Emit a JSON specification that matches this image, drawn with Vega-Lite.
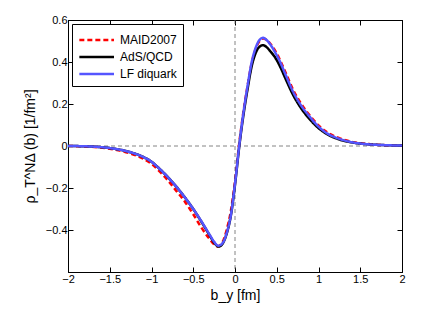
{
  "$schema": "https://vega.github.io/schema/vega-lite/v6.json",
  "width": 334,
  "height": 252,
  "autosize": {"type": "none"},
  "padding": {"left": 68, "top": 20, "right": 29, "bottom": 38},
  "background": "white",
  "config": {
    "font": "Liberation Sans",
    "view": {"stroke": "black", "strokeWidth": 1},
    "axis": {"grid": false, "domainColor": "black", "tickColor": "black", "labelColor": "black", "titleColor": "black", "labelFontSize": 11, "titleFontSize": 14, "titleFontWeight": "normal", "tickSize": -5, "labelPadding": 6, "labelFlush": false},
    "legend": {"labelFontSize": 12, "labelColor": "black"}
  },
  "datasets": {
    "curves": [
      {"x": -2, "y": 0, "s": "MAID2007"},
      {"x": -1.75, "y": -0.003, "s": "MAID2007"},
      {"x": -1.5, "y": -0.013, "s": "MAID2007"},
      {"x": -1.25, "y": -0.036, "s": "MAID2007"},
      {"x": -1.1, "y": -0.06, "s": "MAID2007"},
      {"x": -1.0, "y": -0.085, "s": "MAID2007"},
      {"x": -0.9, "y": -0.122, "s": "MAID2007"},
      {"x": -0.8, "y": -0.165, "s": "MAID2007"},
      {"x": -0.7, "y": -0.215, "s": "MAID2007"},
      {"x": -0.6, "y": -0.265, "s": "MAID2007"},
      {"x": -0.5, "y": -0.325, "s": "MAID2007"},
      {"x": -0.4, "y": -0.39, "s": "MAID2007"},
      {"x": -0.3, "y": -0.445, "s": "MAID2007"},
      {"x": -0.25, "y": -0.468, "s": "MAID2007"},
      {"x": -0.21, "y": -0.478, "s": "MAID2007"},
      {"x": -0.15, "y": -0.458, "s": "MAID2007"},
      {"x": -0.1, "y": -0.40, "s": "MAID2007"},
      {"x": -0.05, "y": -0.31, "s": "MAID2007"},
      {"x": 0, "y": -0.17, "s": "MAID2007"},
      {"x": 0.05, "y": 0.01, "s": "MAID2007"},
      {"x": 0.1, "y": 0.16, "s": "MAID2007"},
      {"x": 0.15, "y": 0.285, "s": "MAID2007"},
      {"x": 0.2, "y": 0.395, "s": "MAID2007"},
      {"x": 0.25, "y": 0.465, "s": "MAID2007"},
      {"x": 0.3, "y": 0.503, "s": "MAID2007"},
      {"x": 0.34, "y": 0.512, "s": "MAID2007"},
      {"x": 0.375, "y": 0.506, "s": "MAID2007"},
      {"x": 0.425, "y": 0.486, "s": "MAID2007"},
      {"x": 0.475, "y": 0.458, "s": "MAID2007"},
      {"x": 0.55, "y": 0.40, "s": "MAID2007"},
      {"x": 0.6, "y": 0.355, "s": "MAID2007"},
      {"x": 0.7, "y": 0.264, "s": "MAID2007"},
      {"x": 0.8, "y": 0.196, "s": "MAID2007"},
      {"x": 0.9, "y": 0.143, "s": "MAID2007"},
      {"x": 1.0, "y": 0.098, "s": "MAID2007"},
      {"x": 1.1, "y": 0.066, "s": "MAID2007"},
      {"x": 1.25, "y": 0.037, "s": "MAID2007"},
      {"x": 1.4, "y": 0.02, "s": "MAID2007"},
      {"x": 1.6, "y": 0.009, "s": "MAID2007"},
      {"x": 1.8, "y": 0.004, "s": "MAID2007"},
      {"x": 2, "y": 0.002, "s": "MAID2007"},

      {"x": -2, "y": 0, "s": "AdS/QCD"},
      {"x": -1.75, "y": -0.002, "s": "AdS/QCD"},
      {"x": -1.5, "y": -0.010, "s": "AdS/QCD"},
      {"x": -1.25, "y": -0.030, "s": "AdS/QCD"},
      {"x": -1.1, "y": -0.052, "s": "AdS/QCD"},
      {"x": -1.0, "y": -0.075, "s": "AdS/QCD"},
      {"x": -0.9, "y": -0.11, "s": "AdS/QCD"},
      {"x": -0.8, "y": -0.15, "s": "AdS/QCD"},
      {"x": -0.7, "y": -0.195, "s": "AdS/QCD"},
      {"x": -0.6, "y": -0.245, "s": "AdS/QCD"},
      {"x": -0.5, "y": -0.30, "s": "AdS/QCD"},
      {"x": -0.4, "y": -0.362, "s": "AdS/QCD"},
      {"x": -0.3, "y": -0.428, "s": "AdS/QCD"},
      {"x": -0.25, "y": -0.46, "s": "AdS/QCD"},
      {"x": -0.195, "y": -0.479, "s": "AdS/QCD"},
      {"x": -0.15, "y": -0.466, "s": "AdS/QCD"},
      {"x": -0.1, "y": -0.418, "s": "AdS/QCD"},
      {"x": -0.05, "y": -0.332, "s": "AdS/QCD"},
      {"x": 0, "y": -0.185, "s": "AdS/QCD"},
      {"x": 0.05, "y": -0.005, "s": "AdS/QCD"},
      {"x": 0.1, "y": 0.145, "s": "AdS/QCD"},
      {"x": 0.15, "y": 0.27, "s": "AdS/QCD"},
      {"x": 0.2, "y": 0.38, "s": "AdS/QCD"},
      {"x": 0.25, "y": 0.445, "s": "AdS/QCD"},
      {"x": 0.3, "y": 0.475, "s": "AdS/QCD"},
      {"x": 0.335, "y": 0.48, "s": "AdS/QCD"},
      {"x": 0.375, "y": 0.472, "s": "AdS/QCD"},
      {"x": 0.425, "y": 0.45, "s": "AdS/QCD"},
      {"x": 0.475, "y": 0.425, "s": "AdS/QCD"},
      {"x": 0.55, "y": 0.37, "s": "AdS/QCD"},
      {"x": 0.6, "y": 0.325, "s": "AdS/QCD"},
      {"x": 0.7, "y": 0.24, "s": "AdS/QCD"},
      {"x": 0.8, "y": 0.175, "s": "AdS/QCD"},
      {"x": 0.9, "y": 0.125, "s": "AdS/QCD"},
      {"x": 1.0, "y": 0.085, "s": "AdS/QCD"},
      {"x": 1.1, "y": 0.057, "s": "AdS/QCD"},
      {"x": 1.25, "y": 0.031, "s": "AdS/QCD"},
      {"x": 1.4, "y": 0.017, "s": "AdS/QCD"},
      {"x": 1.6, "y": 0.008, "s": "AdS/QCD"},
      {"x": 1.8, "y": 0.004, "s": "AdS/QCD"},
      {"x": 2, "y": 0.002, "s": "AdS/QCD"},

      {"x": -2, "y": 0, "s": "LF diquark"},
      {"x": -1.75, "y": -0.002, "s": "LF diquark"},
      {"x": -1.5, "y": -0.010, "s": "LF diquark"},
      {"x": -1.25, "y": -0.030, "s": "LF diquark"},
      {"x": -1.1, "y": -0.052, "s": "LF diquark"},
      {"x": -1.0, "y": -0.075, "s": "LF diquark"},
      {"x": -0.9, "y": -0.11, "s": "LF diquark"},
      {"x": -0.8, "y": -0.15, "s": "LF diquark"},
      {"x": -0.7, "y": -0.195, "s": "LF diquark"},
      {"x": -0.6, "y": -0.245, "s": "LF diquark"},
      {"x": -0.5, "y": -0.30, "s": "LF diquark"},
      {"x": -0.4, "y": -0.36, "s": "LF diquark"},
      {"x": -0.3, "y": -0.425, "s": "LF diquark"},
      {"x": -0.25, "y": -0.456, "s": "LF diquark"},
      {"x": -0.2, "y": -0.475, "s": "LF diquark"},
      {"x": -0.15, "y": -0.463, "s": "LF diquark"},
      {"x": -0.1, "y": -0.415, "s": "LF diquark"},
      {"x": -0.05, "y": -0.33, "s": "LF diquark"},
      {"x": 0, "y": -0.18, "s": "LF diquark"},
      {"x": 0.05, "y": 0.0, "s": "LF diquark"},
      {"x": 0.1, "y": 0.155, "s": "LF diquark"},
      {"x": 0.15, "y": 0.285, "s": "LF diquark"},
      {"x": 0.2, "y": 0.40, "s": "LF diquark"},
      {"x": 0.25, "y": 0.47, "s": "LF diquark"},
      {"x": 0.3, "y": 0.508, "s": "LF diquark"},
      {"x": 0.335, "y": 0.515, "s": "LF diquark"},
      {"x": 0.375, "y": 0.506, "s": "LF diquark"},
      {"x": 0.425, "y": 0.482, "s": "LF diquark"},
      {"x": 0.475, "y": 0.45, "s": "LF diquark"},
      {"x": 0.55, "y": 0.392, "s": "LF diquark"},
      {"x": 0.6, "y": 0.345, "s": "LF diquark"},
      {"x": 0.7, "y": 0.255, "s": "LF diquark"},
      {"x": 0.8, "y": 0.188, "s": "LF diquark"},
      {"x": 0.9, "y": 0.137, "s": "LF diquark"},
      {"x": 1.0, "y": 0.092, "s": "LF diquark"},
      {"x": 1.1, "y": 0.061, "s": "LF diquark"},
      {"x": 1.25, "y": 0.034, "s": "LF diquark"},
      {"x": 1.4, "y": 0.018, "s": "LF diquark"},
      {"x": 1.6, "y": 0.008, "s": "LF diquark"},
      {"x": 1.8, "y": 0.004, "s": "LF diquark"},
      {"x": 2, "y": 0.002, "s": "LF diquark"}
    ]
  },
  "layer": [
    {
      "data": {"values": [{"v": 0}]},
      "mark": {"type": "rule", "color": "#666666", "strokeDash": [4, 3], "strokeWidth": 0.8},
      "encoding": {
        "y": {"field": "v", "type": "quantitative", "scale": {"domain": [-0.6, 0.6], "nice": false},
          "axis": {"orient": "right", "labels": false, "title": null, "values": [-0.4, -0.2, 0, 0.2, 0.4, 0.6]}}
      }
    },
    {
      "data": {"values": [{"v": 0}]},
      "mark": {"type": "rule", "color": "#666666", "strokeDash": [4, 3], "strokeWidth": 0.8},
      "encoding": {
        "x": {"field": "v", "type": "quantitative", "scale": {"domain": [-2, 2], "nice": false},
          "axis": {"orient": "top", "labels": false, "title": null, "values": [-2, -1.5, -1, -0.5, 0, 0.5, 1, 1.5, 2]}}
      }
    },
    {
      "data": {"name": "curves"},
      "mark": {"type": "line", "interpolate": "monotone"},
      "encoding": {
        "x": {"field": "x", "type": "quantitative", "scale": {"domain": [-2, 2], "nice": false},
          "axis": {"orient": "bottom", "title": "b_y [fm]", "format": "~g", "values": [-2, -1.5, -1, -0.5, 0, 0.5, 1, 1.5, 2], "titlePadding": 4}},
        "y": {"field": "y", "type": "quantitative", "scale": {"domain": [-0.6, 0.6], "nice": false},
          "axis": {"orient": "left", "title": "ρ_T^NΔ (b) [1/fm²]", "format": "~g", "values": [-0.4, -0.2, 0, 0.2, 0.4, 0.6], "titlePadding": 8}},
        "color": {"field": "s", "type": "nominal", "scale": {"domain": ["MAID2007", "AdS/QCD", "LF diquark"], "range": ["#ff0000", "#000000", "#5555ff"]},
          "legend": {"title": null, "orient": "none", "legendX": 4, "legendY": 4, "symbolType": "M-1,0H3", "symbolSize": 300, "symbolStrokeWidth": 2.5, "strokeColor": "black", "fillColor": "white", "padding": 6, "rowPadding": 1, "labelOffset": 22}},
        "strokeDash": {"field": "s", "type": "nominal", "scale": {"domain": ["MAID2007", "AdS/QCD", "LF diquark"], "range": [[5, 3], [1, 0], [1, 0]]}, "legend": null},
        "strokeWidth": {"field": "s", "type": "nominal", "scale": {"domain": ["MAID2007", "AdS/QCD", "LF diquark"], "range": [2.5, 2.5, 2]}, "legend": null},
        "order": {"field": "s", "sort": "descending"}
      }
    }
  ],
  "resolve": {"axis": {"x": "independent", "y": "independent"}}
}
